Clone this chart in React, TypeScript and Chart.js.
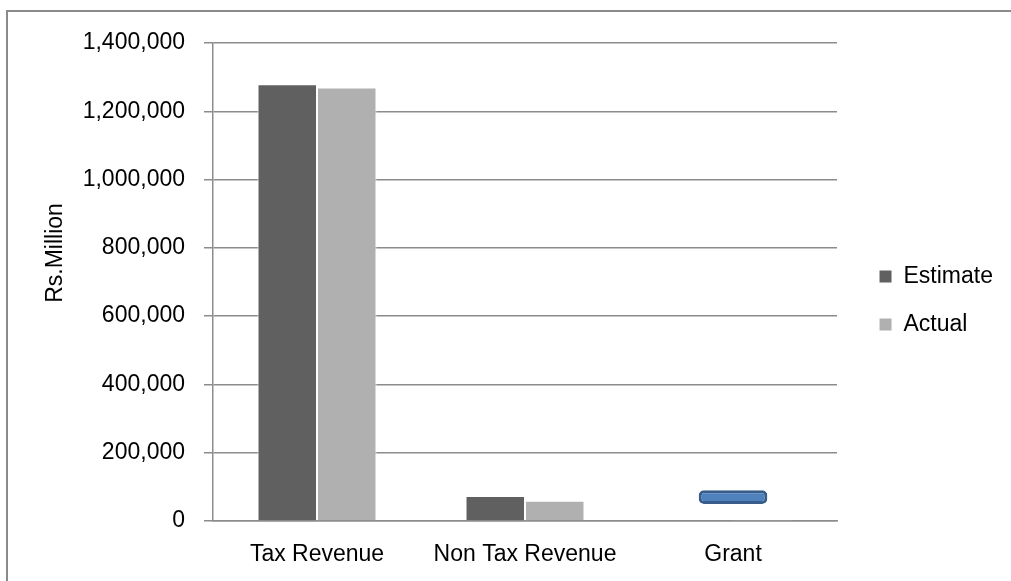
import React, { useEffect, useRef } from 'react';
import { Chart, registerables } from 'chart.js';

Chart.register(...registerables);

const categories = ['Tax Revenue', 'Non Tax Revenue', 'Grant'];
const seriesNames = ['Estimate', 'Actual'];
const estimateValues = [1279000, 73000, 2000];
const actualValues = [1270000, 59000, 1500];
const grantMarkerRange: (number[] | null)[] = [null, null, [50000, 90000]];
const yMin = 0;
const yMax = 1400000;
const yStep = 200000;
const yAxisTitle = 'Rs.Million';

const FONT = '"Liberation Sans", Arial, sans-serif';
const GRID = '#8c8c8c';

const yTitlePlugin = {
  id: 'yTitleCustom',
  afterDraw(chart: any) {
    const ctx = chart.ctx as CanvasRenderingContext2D;
    ctx.save();
    ctx.translate(56, 253);
    ctx.rotate(-Math.PI / 2);
    ctx.font = `23px ${FONT}`;
    ctx.fillStyle = '#000';
    ctx.textAlign = 'center';
    ctx.textBaseline = 'middle';
    ctx.fillText(yAxisTitle, 0, 0);
    ctx.restore();
  },
};

export default function App() {
  const ref = useRef<HTMLCanvasElement | null>(null);

  useEffect(() => {
    if (!ref.current) return;
    const chart = new Chart(ref.current, {
      type: 'bar',
      data: {
        labels: categories,
        datasets: [
          {
            label: seriesNames[0],
            data: estimateValues,
            backgroundColor: '#606060',
            borderColor: '#ffffff',
            borderWidth: 1,
            categoryPercentage: 0.572,
            barPercentage: 1,
          },
          {
            label: seriesNames[1],
            data: actualValues,
            backgroundColor: '#b0b0b0',
            borderColor: '#ffffff',
            borderWidth: 1,
            categoryPercentage: 0.572,
            barPercentage: 1,
          },
          {
            label: 'marker',
            data: grantMarkerRange as any,
            grouped: false,
            backgroundColor: '#4f81bd',
            borderColor: '#385d8a',
            borderWidth: 3,
            borderRadius: 5,
            borderSkipped: false,
            categoryPercentage: 0.33,
            barPercentage: 1,
          } as any,
        ],
      },
      options: {
        animation: false,
        responsive: true,
        maintainAspectRatio: false,
        layout: { padding: { top: 43, right: 8, bottom: 0, left: 0 } },
        plugins: {
          tooltip: { enabled: false },
          legend: {
            position: 'right',
            fullSize: false,
            title: { display: true, text: '', font: { size: 1, lineHeight: 1 }, padding: { top: 36, bottom: 0 } },
            labels: {
              filter: (item: any) => item.datasetIndex < 2,
              boxWidth: 13,
              boxHeight: 13,
              padding: 25,
              color: '#000',
              font: { family: FONT, size: 23 },
            },
          },
        },
        scales: {
          x: {
            type: 'category',
            offset: true,
            grid: { display: false, drawTicks: false },
            border: { display: true, color: GRID, width: 1.5 },
            ticks: { color: '#000', font: { family: FONT, size: 23 }, padding: 20 },
            afterFit: (s: any) => { s.height = 60; },
          },
          y: {
            min: yMin,
            max: yMax,
            ticks: {
              stepSize: yStep,
              color: '#000',
              font: { family: FONT, size: 23 },
              padding: 19,
              callback: (v: any) => Number(v).toLocaleString('en-US'),
            },
            grid: { color: GRID, lineWidth: 1.5, tickLength: 9, drawTicks: true },
            border: { display: true, color: GRID, width: 1.5 },
            afterFit: (s: any) => { s.width = 213; },
          },
          yR: {
            type: 'linear',
            position: 'right',
            display: true,
            grid: { display: false, drawTicks: false },
            border: { display: false },
            ticks: { display: false },
            afterFit: (s: any) => { s.width = 17; },
          },
        },
      } as any,
      plugins: [yTitlePlugin],
    });
    return () => chart.destroy();
  }, []);

  return (
    <div style={{ position: 'fixed', left: 0, top: 0, width: 1011, height: 581, overflow: 'hidden', background: '#fff' }}>
      <div style={{ position: 'absolute', left: 6, top: 10, width: 1100, height: 700, border: '2px solid #8a8a8a' }} />
      <div style={{ position: 'absolute', left: 0, top: 0, width: 1011, height: 581 }}>
        <canvas ref={ref} />
      </div>
    </div>
  );
}
